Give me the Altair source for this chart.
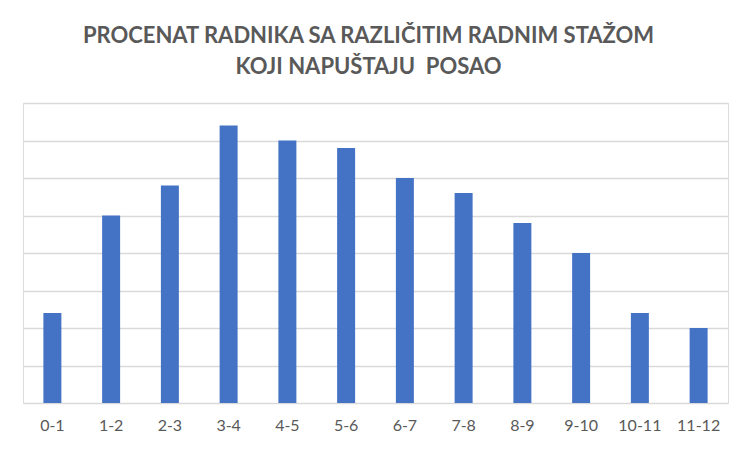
import altair as alt
import pandas as pd

categories = ["0-1", "1-2", "2-3", "3-4", "4-5", "5-6", "6-7", "7-8", "8-9", "9-10", "10-11", "11-12"]
values = [2.4, 5.0, 5.8, 7.4, 7.0, 6.8, 6.0, 5.6, 4.8, 4.0, 2.4, 2.0]
title_lines = ["PROCENAT RADNIKA SA RAZLIČITIM RADNIM STAŽOM", "KOJI NAPUŠTAJU\u00a0 POSAO"]

df = pd.DataFrame({"staz": categories, "procenat": values})

FONT = "Lato"

chart = (
    alt.Chart(df)
    .mark_bar(color="#4472C4")
    .encode(
        x=alt.X(
            "staz:N",
            sort=categories,
            scale=alt.Scale(paddingInner=0.694, paddingOuter=0.347),
            axis=alt.Axis(
                title=None,
                labelAngle=0,
                labelFontSize=16,
                labelFont=FONT,
                labelColor="#595959",
                labelPadding=14,
                ticks=False,
                domain=False,
            ),
        ),
        y=alt.Y(
            "procenat:Q",
            scale=alt.Scale(domain=[0, 8], nice=False),
            axis=alt.Axis(
                title=None,
                labels=False,
                ticks=False,
                domain=False,
                values=[0, 1, 2, 3, 4, 5, 6, 7, 8],
                gridColor="#D9D9D9",
                gridWidth=1.4,
            ),
        ),
    )
    .properties(
        width=705,
        height=300,
        title=alt.TitleParams(
            text=title_lines,
            font=FONT,
            fontSize=22,
            fontWeight="bold",
            color="#595959",
            anchor="middle",
            offset=24,
            lineHeight=31,
            dx=-7,
        ),
        autosize=alt.AutoSizeParams(type="none"),
        padding={"left": 15, "top": 95, "right": 15, "bottom": 41},
    )
    .configure_view(stroke=None)
    .configure(background="white")
)

chart.save("out.html", embed_options={"renderer": "svg", "actions": False})
